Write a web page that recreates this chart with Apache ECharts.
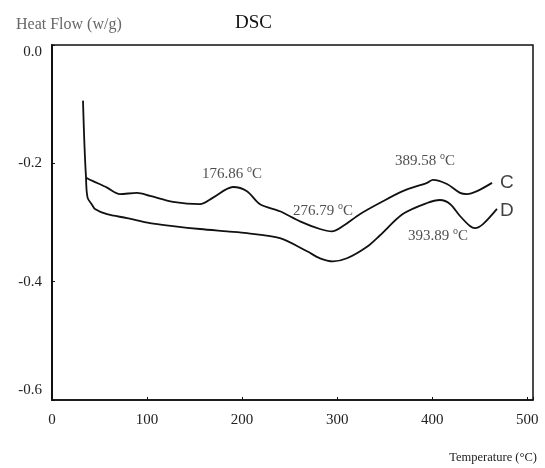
<!DOCTYPE html>
<html>
<head>
<meta charset="utf-8">
<script src="https://cdn.jsdelivr.net/npm/echarts@6/dist/echarts.min.js"></script>
<style>html,body{margin:0;padding:0;background:#fff}#c{width:545px;height:468px}</style>
</head>
<body>
<div id="c"></div>
<script>
// Temperature (°C) vs Heat Flow (w/g)
var curveC = [
  [32.6,-0.094],[35.8,-0.224],[37.9,-0.226],[43.1,-0.230],[57.9,-0.241],[71.5,-0.252],
  [89.4,-0.250],[103.1,-0.255],[127.3,-0.265],[155.7,-0.269],[169.4,-0.258],[190.4,-0.240],
  [205.1,-0.247],[218.8,-0.269],[239.8,-0.281],[260.9,-0.298],[281.9,-0.311],[294.5,-0.315],
  [306.1,-0.306],[323.8,-0.286],[344.8,-0.267],[369,-0.247],[394.5,-0.233],[400.8,-0.228],
  [415.5,-0.235],[429.2,-0.250],[436.6,-0.252],[447.1,-0.247],[462.9,-0.233]
];
var curveD = [
  [35.8,-0.224],[37.4,-0.258],[42.1,-0.270],[45.2,-0.277],[57.9,-0.286],[78.9,-0.2925],
  [103.1,-0.301],[127.3,-0.306],[155.7,-0.311],[184.1,-0.315],[205.1,-0.318],[239.8,-0.3265],
  [268.3,-0.3486],[281.9,-0.3605],[295.6,-0.3656],[310.3,-0.3605],[331.4,-0.341],[344.8,-0.322],
  [369,-0.2857],[394.5,-0.267],[408.2,-0.262],[418.7,-0.2687],[429.2,-0.289],[439.7,-0.306],
  [445,-0.3095],[453.4,-0.3027],[468.1,-0.277]
];
var peakLabels = [
  [189.4,-0.2177,'176.86'],
  [285.1,-0.2806,'276.79'],
  [392.4,-0.1956,'389.58'],
  [406,-0.323,'393.89']
];
var seriesLabels = [
  [478.6,-0.233,'C'],
  [478.6,-0.2806,'D']
];
var xTicks = [0,100,200,300,400,500];
var xMax = 506;
var yTicks = [0,-0.2,-0.4,-0.6];

var chart = echarts.init(document.getElementById('c'), null, {renderer:'canvas'});
var serif = '"Liberation Serif","DejaVu Serif",serif';
chart.setOption({
  animation:false,
  backgroundColor:'#fff',
  title:[
    {text:'Heat Flow (w/g)', left:11, top:12, textStyle:{fontFamily:serif, fontSize:16, fontWeight:'normal', color:'#666'}},
    {text:'DSC', left:230, top:9, textStyle:{fontFamily:serif, fontSize:19, fontWeight:'normal', color:'#111'}}
  ],
  grid:{left:52, right:12, top:45, bottom:68, show:true, borderColor:'#111', borderWidth:1.5},
  xAxis:{
    type:'value', min:xTicks[0], max:xMax, interval:100,
    name:'Temperature (°C)', nameLocation:'end', nameGap:0,
    nameTextStyle:{fontFamily:serif, fontSize:12.5, color:'#222', align:'right', verticalAlign:'top', padding:[51,-4,0,0]},
    axisLine:{show:true, onZero:false, lineStyle:{color:'#111', width:1.5}},
    axisTick:{show:true, inside:true, length:3, lineStyle:{color:'#111'}},
    axisLabel:{fontFamily:serif, fontSize:15, color:'#222', margin:13,
      formatter:function(v){return xTicks.indexOf(v)>=0 ? String(v) : '';}},
    splitLine:{show:false}
  },
  yAxis:{
    type:'value', min:yTicks[3], max:yTicks[0], interval:0.2,
    axisLine:{show:true, onZero:false, lineStyle:{color:'#111', width:2}},
    axisTick:{show:true, inside:true, length:3, lineStyle:{color:'#111'}},
    axisLabel:{fontFamily:serif, fontSize:15, color:'#222', margin:10,
      formatter:function(v){
        var s = v.toFixed(1);
        if (Math.abs(v) < 1e-9) return '{lo|' + s + '}';
        if (Math.abs(v - yTicks[3]) < 1e-9) return '{hi|' + s + '}';
        return s;
      },
      rich:{
        lo:{fontFamily:serif, fontSize:15, color:'#222', padding:[14,0,0,0]},
        hi:{fontFamily:serif, fontSize:15, color:'#222', padding:[0,0,20,0]}
      }},
    splitLine:{show:false}
  },
  series:[
    {type:'line', name:'C', data:curveC, showSymbol:false, smooth:0.3,
      lineStyle:{color:'#111', width:1.8}},
    {type:'line', name:'D', data:curveD, showSymbol:false, smooth:0.3,
      lineStyle:{color:'#111', width:1.8}},
    {type:'scatter', symbolSize:0, silent:true,
      data:peakLabels.map(function(p){return [p[0],p[1],p[2]];}),
      label:{show:true, position:'inside', fontFamily:serif, fontSize:15, color:'#222',
        formatter:function(p){return p.data[2]+' {s|o}C';},
        rich:{s:{fontFamily:serif, fontSize:10, color:'#222', verticalAlign:'top', padding:[0,0,9,0]}}}},
    {type:'scatter', symbolSize:0, silent:true,
      data:seriesLabels.map(function(p){return [p[0],p[1],p[2]];}),
      label:{show:true, position:'inside', fontFamily:'"Liberation Sans",Arial,sans-serif', fontSize:19, color:'#111',
        formatter:function(p){return p.data[2];}}}
  ]
});
</script>
</body>
</html>
